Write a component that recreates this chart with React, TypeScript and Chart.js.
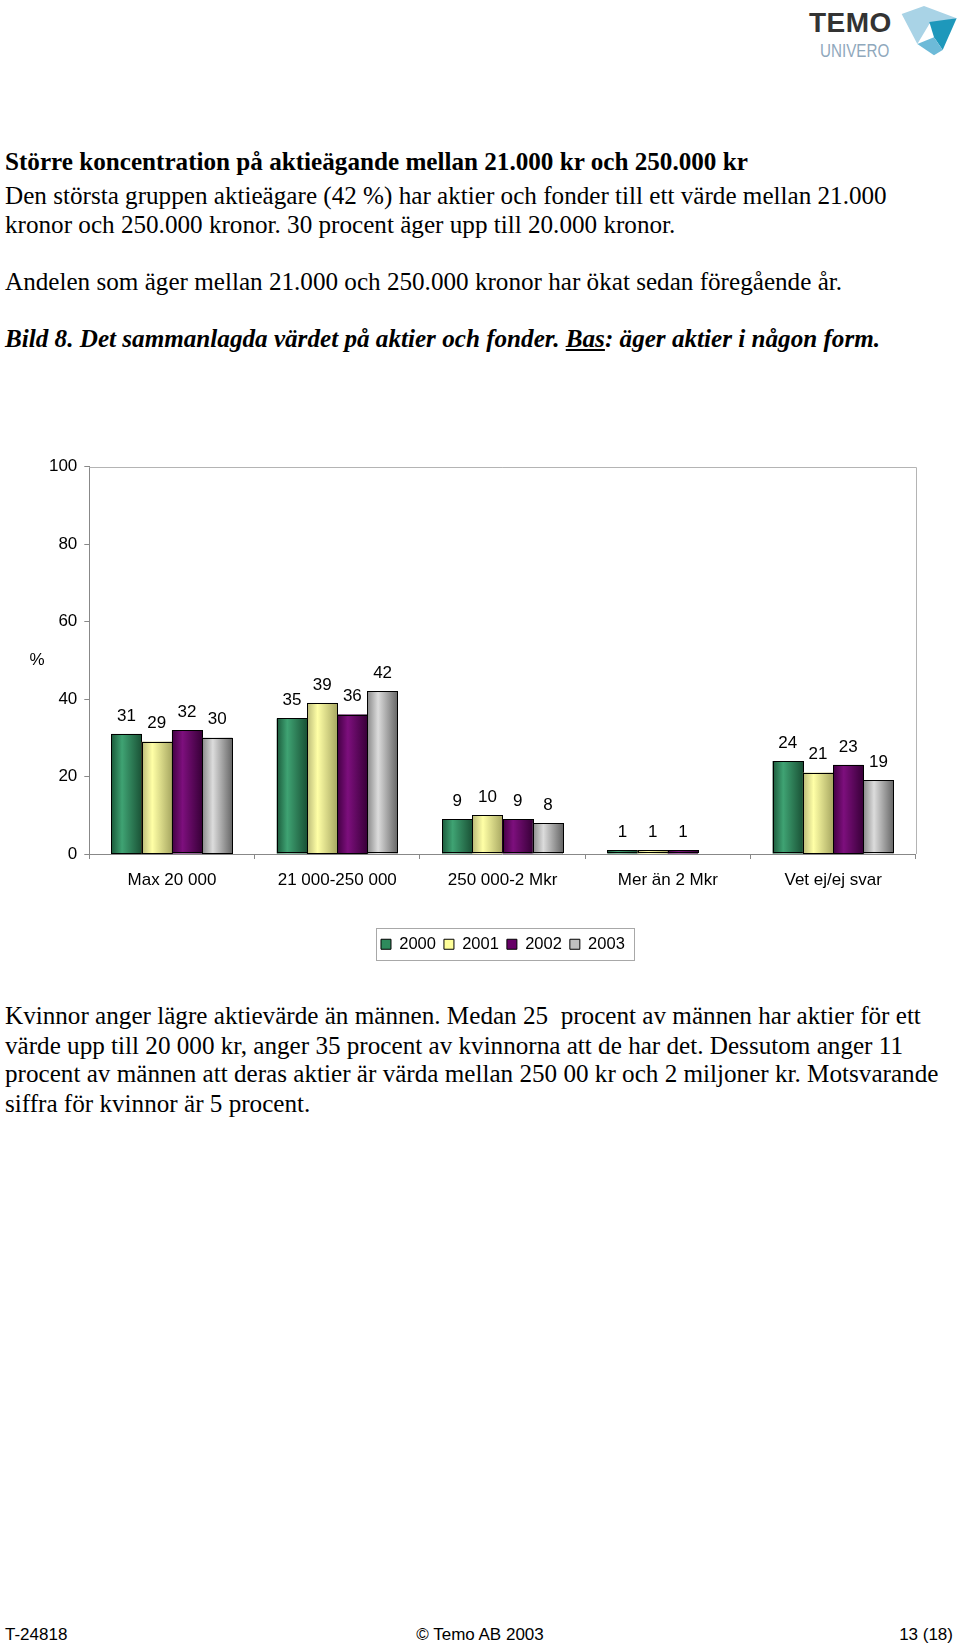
import React, { useEffect, useRef } from "react";
import { Chart, registerables } from "chart.js";

Chart.register(...registerables);

const categories = ["Max 20 000", "21 000-250 000", "250 000-2 Mkr", "Mer än 2 Mkr", "Vet ej/ej svar"];
const seriesLabels = ["2000", "2001", "2002", "2003"];
const values2000 = [31, 35, 9, 1, 24];
const values2001 = [29, 39, 10, 1, 21];
const values2002 = [32, 36, 9, 1, 23];
const values2003 = [30, 42, 8, null, 19];
const yTicks = [0, 20, 40, 60, 80, 100];

const baseColors = ["#2E8A5C", "#FFFF99", "#660066", "#C0C0C0"];
const gradStops = [
  ["#1B5A3B", "#3FA373", "#1A5236"],
  ["#B9B978", "#FFFFA6", "#A8A862"],
  ["#420042", "#7D0F7D", "#380038"],
  ["#8A8A8A", "#DCDCDC", "#666666"],
];

const SANS = "'Liberation Sans', Arial, sans-serif";
const SERIF = "'Liberation Serif', 'Times New Roman', serif";

const decorPlugin = {
  id: "decor",
  afterLayout(chart: any) {
    const lg = chart.legend;
    if (lg) {
      lg.left += 45;
      lg.right += 45;
    }
  },
  beforeDatasetsDraw(chart: any) {
    const { ctx, chartArea } = chart;
    ctx.save();
    ctx.strokeStyle = "#B4B4B4";
    ctx.lineWidth = 1;
    ctx.beginPath();
    ctx.moveTo(chartArea.left, Math.round(chartArea.top) + 0.5);
    ctx.lineTo(Math.round(chartArea.right) + 0.5, Math.round(chartArea.top) + 0.5);
    ctx.lineTo(Math.round(chartArea.right) + 0.5, chartArea.bottom);
    ctx.stroke();
    ctx.restore();
  },
  afterDatasetsDraw(chart: any) {
    const ctx = chart.ctx;
    chart.data.datasets.forEach((ds: any, di: number) => {
      const meta = chart.getDatasetMeta(di);
      meta.data.forEach((el: any, i: number) => {
        const v = ds.data[i];
        if (v == null) return;
        const { x, y, base, width } = el.getProps(["x", "y", "base", "width"], true);
        const left = x - width / 2;
        const g = ctx.createLinearGradient(left, 0, left + width, 0);
        const st = gradStops[di];
        g.addColorStop(0, st[0]);
        g.addColorStop(0.35, st[1]);
        g.addColorStop(1, st[2]);
        ctx.save();
        ctx.fillStyle = g;
        ctx.fillRect(left, y, width, base - y);
        ctx.strokeStyle = "#000";
        ctx.lineWidth = 1;
        ctx.strokeRect(Math.round(left) + 0.5, Math.round(y) + 0.5, Math.round(width), Math.round(base - y) - 1);
        ctx.fillStyle = "#000";
        ctx.font = "17px " + SANS;
        ctx.textAlign = "center";
        ctx.textBaseline = "middle";
        ctx.fillText(String(v), x, y - 18);
        ctx.restore();
      });
    });
  },
  afterDraw(chart: any) {
    const ctx = chart.ctx;
    ctx.save();
    ctx.fillStyle = "#000";
    ctx.font = "17px " + SANS;
    ctx.textAlign = "center";
    ctx.textBaseline = "middle";
    ctx.fillText("%", 37, 230);
    const hb = chart.legend && chart.legend.legendHitBoxes;
    if (hb && hb.length) {
      const l = Math.min(...hb.map((h: any) => h.left)) - 5;
      const r = Math.max(...hb.map((h: any) => h.left + h.width)) + 9;
      const t = hb[0].top - 8;
      const b = hb[0].top + hb[0].height + 7;
      ctx.strokeStyle = "#A8A8A8";
      ctx.lineWidth = 1;
      ctx.strokeRect(Math.round(l) + 0.5, Math.round(t) + 0.5, Math.round(r - l), Math.round(b - t));
    }
    ctx.restore();
  },
};

function BarChart() {
  const ref = useRef<HTMLCanvasElement>(null);
  useEffect(() => {
    if (!ref.current) return;
    const series = [values2000, values2001, values2002, values2003];
    const chart = new Chart(ref.current, {
      type: "bar",
      data: {
        labels: categories,
        datasets: series.map((d, i) => ({
          label: seriesLabels[i],
          data: d,
          backgroundColor: baseColors[i],
          borderColor: "#000",
          borderWidth: 1,
          categoryPercentage: 0.732,
          barPercentage: 1,
        })),
      },
      options: {
        animation: false,
        responsive: false,
        maintainAspectRatio: false,
        layout: { padding: { left: 0, right: 44.2, top: 36.7, bottom: 27.5 } },
        plugins: {
          tooltip: { enabled: false },
          legend: {
            position: "bottom",
            labels: {
              boxWidth: 10,
              boxHeight: 10,
              padding: 8,
              color: "#000",
              font: { size: 16.5, family: SANS },
            },
          },
        },
        scales: {
          x: {
            grid: { drawOnChartArea: false, drawTicks: true, tickLength: 5, color: "#888", offset: true },
            border: { color: "#888" },
            ticks: { color: "#000", font: { size: 17, family: SANS }, padding: 11, maxRotation: 0, autoSkip: false },
            afterFit: (s: any) => { s.height = 74; },
          },
          y: {
            min: 0,
            max: 100,
            afterBuildTicks: (s: any) => { s.ticks = yTicks.map((v) => ({ value: v })); },
            grid: { drawOnChartArea: false, drawTicks: true, tickLength: 5, color: "#888" },
            border: { color: "#888" },
            ticks: { color: "#000", font: { size: 17, family: SANS }, padding: 7 },
            afterFit: (s: any) => { s.width = 89.3; },
          },
        },
      },
      plugins: [decorPlugin],
    });
    return () => chart.destroy();
  }, []);
  return <canvas ref={ref} width={960} height={560} style={{ position: "absolute", left: 0, top: 430, width: 960, height: 560 }} />;
}

function Line({ top, children, style }: any) {
  return (
    <div style={{ position: "absolute", left: 5, top: top - 14.5, height: 29, lineHeight: "29px", whiteSpace: "pre", fontFamily: SERIF, fontSize: 25.15, color: "#000", ...style }}>
      {children}
    </div>
  );
}

function Logo() {
  const p = (pts: number[][]) => pts.map(([x, y]) => `${800 + x / 3},${y / 3}`).join(" ");
  return (
    <>
      <div style={{ position: "absolute", left: 809, top: 7, fontFamily: SANS, fontWeight: "bold", fontSize: 28, letterSpacing: 0.5, color: "#333", lineHeight: "32px" }}>TEMO</div>
      <div style={{ position: "absolute", left: 820, top: 41, fontFamily: SANS, fontSize: 19, color: "#8FA8BC", lineHeight: "20px", transform: "scaleX(0.8)", transformOrigin: "left center" }}>UNIVERO</div>
      <svg style={{ position: "absolute", left: 0, top: 0 }} width={960} height={70}>
        <polygon points={p([[305, 42], [372, 18], [470, 55], [388, 72], [352, 132]])} fill="#A9D3E6" />
        <polygon points={p([[388, 66], [470, 55], [428, 150], [402, 112]])} fill="#1E98BB" />
        <polygon points={p([[352, 132], [402, 112], [428, 150], [402, 166]])} fill="#6DBAD8" />
      </svg>
    </>
  );
}

export default function App() {
  return (
    <div style={{ position: "absolute", left: 0, top: 0, width: 960, height: 1649, background: "#fff", overflow: "hidden" }}>
      <Logo />
      <Line top={161} style={{ fontWeight: "bold" }}>Större koncentration på aktieägande mellan 21.000 kr och 250.000 kr</Line>
      <Line top={195.6}>Den största gruppen aktieägare (42 %) har aktier och fonder till ett värde mellan 21.000</Line>
      <Line top={224}>kronor och 250.000 kronor. 30 procent äger upp till 20.000 kronor.</Line>
      <Line top={281.8}>Andelen som äger mellan 21.000 och 250.000 kronor har ökat sedan föregående år.</Line>
      <Line top={338.6} style={{ fontWeight: "bold", fontStyle: "italic" }}>
        {"Bild 8. Det sammanlagda värdet på aktier och fonder. "}
        <span style={{ textDecoration: "underline" }}>Bas</span>
        {": äger aktier i någon form."}
      </Line>
      <BarChart />
      <Line top={1015.8}>Kvinnor anger lägre aktievärde än männen. Medan 25  procent av männen har aktier för ett</Line>
      <Line top={1045.2}>värde upp till 20 000 kr, anger 35 procent av kvinnorna att de har det. Dessutom anger 11</Line>
      <Line top={1073.6}>procent av männen att deras aktier är värda mellan 250 00 kr och 2 miljoner kr. Motsvarande</Line>
      <Line top={1103}>siffra för kvinnor är 5 procent.</Line>
      <div style={{ position: "absolute", left: 5, top: 1625, fontFamily: SANS, fontSize: 17, lineHeight: "20px" }}>T-24818</div>
      <div style={{ position: "absolute", left: 0, width: 960, textAlign: "center", top: 1625, fontFamily: SANS, fontSize: 17, lineHeight: "20px" }}>© Temo AB 2003</div>
      <div style={{ position: "absolute", right: 7, top: 1625, fontFamily: SANS, fontSize: 17, lineHeight: "20px" }}>13 (18)</div>
    </div>
  );
}
